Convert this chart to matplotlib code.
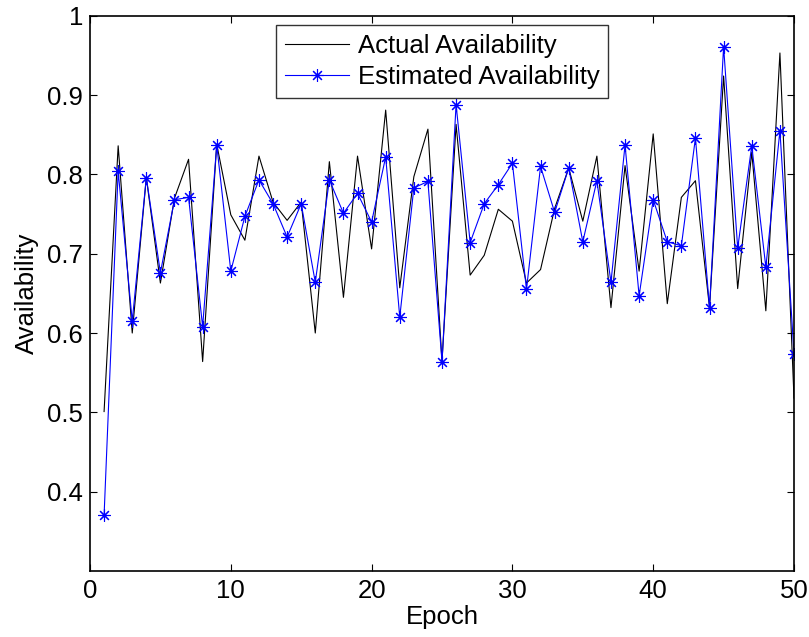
import matplotlib
matplotlib.use("Agg")
import matplotlib.pyplot as plt

epochs = list(range(1, 51))
actual = [0.501, 0.836, 0.600, 0.796, 0.663, 0.770, 0.819, 0.564, 0.838, 0.749,
          0.717, 0.823, 0.765, 0.742, 0.765, 0.600, 0.816, 0.645, 0.823, 0.706,
          0.881, 0.657, 0.797, 0.857, 0.564, 0.863, 0.673, 0.698, 0.756, 0.741,
          0.663, 0.680, 0.757, 0.808, 0.741, 0.823, 0.632, 0.811, 0.678, 0.851,
          0.637, 0.771, 0.792, 0.632, 0.924, 0.656, 0.828, 0.628, 0.953, 0.518]
estimated = [0.370, 0.804, 0.615, 0.796, 0.676, 0.768, 0.771, 0.608, 0.837, 0.678,
             0.747, 0.793, 0.763, 0.721, 0.763, 0.664, 0.793, 0.751, 0.776, 0.740,
             0.822, 0.620, 0.783, 0.791, 0.564, 0.888, 0.714, 0.763, 0.787, 0.814,
             0.655, 0.810, 0.752, 0.808, 0.715, 0.792, 0.664, 0.837, 0.647, 0.768,
             0.715, 0.710, 0.846, 0.632, 0.961, 0.707, 0.836, 0.683, 0.855, 0.574]
yticks = [0.4, 0.5, 0.6, 0.7, 0.8, 0.9, 1.0]
ytick_labels = ["0.4", "0.5", "0.6", "0.7", "0.8", "0.9", "1"]
xticks = [0, 10, 20, 30, 40, 50]
xtick_labels = ["0", "10", "20", "30", "40", "50"]

plt.rcParams['font.family'] = ['Liberation Sans', 'DejaVu Sans']
FS = 18.5

fig = plt.figure(figsize=(8.09, 6.37), dpi=100)
ax = fig.add_axes([90/809, 1 - 571/637, (794-90)/809, (571-15.7)/637])

ax.plot(epochs, actual, color='black', linewidth=0.8, label='Actual Availability')
ax.plot(epochs, estimated, color='blue', linewidth=0.8, marker=(8, 2, 0),
        markersize=9, markeredgewidth=0.8, markeredgecolor='blue',
        label='Estimated Availability')

ax.set_xlim(0, 50)
ax.set_ylim(0.3, 1.0)
ax.set_xticks(xticks)
ax.set_xticklabels(xtick_labels)
ax.set_yticks(yticks)
ax.set_yticklabels(ytick_labels)
ax.tick_params(direction='in', length=5, width=0.8, labelsize=FS,
               top=True, right=True)
ax.tick_params(axis='x', pad=6)
ax.tick_params(axis='y', pad=5)
for s in ax.spines.values():
    s.set_linewidth(1.2)

ax.set_xlabel('Epoch', fontsize=FS, labelpad=1)
ax.set_ylabel('Availability', fontsize=FS, labelpad=6)

leg = ax.legend(loc='upper center', bbox_to_anchor=(0.5, 0.998), fontsize=FS,
                frameon=True, fancybox=False, edgecolor='black',
                handlelength=2.5, handletextpad=0.35, borderpad=0.35,
                labelspacing=0.3, borderaxespad=0.3)
leg.get_frame().set_linewidth(1.0)

fig.savefig('out.png', dpi=100)
